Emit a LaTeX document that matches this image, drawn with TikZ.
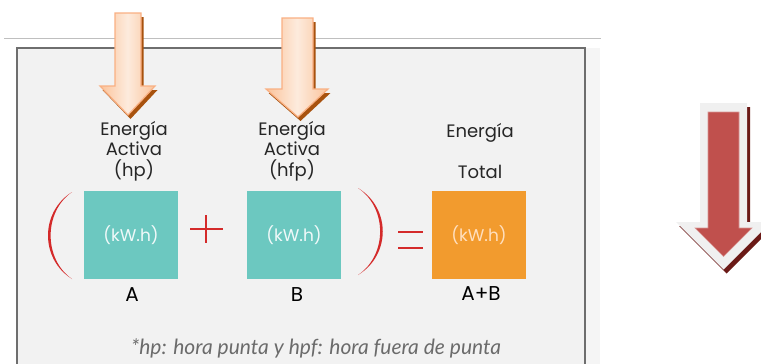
\documentclass[tikz,border=0pt]{standalone}
\usepackage{fontspec}
\setmainfont{Poppins}
\newfontfamily\notefont{Lato}
\definecolor{panelgray}{HTML}{F2F2F2}
\definecolor{bordergray}{HTML}{6E6E6E}
\definecolor{tealbox}{HTML}{6CC8C0}
\definecolor{orangebox}{HTML}{F29B2E}
\definecolor{signred}{HTML}{D42A2A}
\definecolor{peach}{HTML}{FBC39A}
\definecolor{peachlight}{HTML}{FDEBDD}
\definecolor{peachedge}{HTML}{F9B083}
\definecolor{brownshadow}{HTML}{A8520E}
\definecolor{arrowred}{HTML}{C0504D}
\definecolor{darkred}{HTML}{6B1A17}
\begin{document}
\begin{tikzpicture}[x=1pt,y=-1pt,
  label/.style={align=center,text=black!85,font=\fontsize{18}{20.5}\selectfont},
  energybox/.style={minimum width=94pt,minimum height=88pt,inner sep=0pt,font=\fontsize{17}{19}\selectfont},
  letter/.style={text=black,font=\fontsize{20}{22}\selectfont}]
\useasboundingbox (0,0) rectangle (761,364);
\fill[white] (0,0) rectangle (761,364);
\draw[black!25] (4,38) -- (601,38);
\fill[black!4] (585,48) rectangle (600,370);
\draw[bordergray,fill=panelgray,line width=1.5pt] (17,48) rectangle (585,375);

\fill[brownshadow,shift={(2.5,4)}] (115,13) -- (141,13) -- (141,86) -- (155,86) -- (128,115) -- (100,86) -- (115,86) -- cycle;
\draw[peachedge,line width=1.2pt,left color=peach,right color=peach,middle color=peachlight] (115,13) -- (141,13) -- (141,86) -- (155,86) -- (128,115) -- (100,86) -- (115,86) -- cycle;
\fill[brownshadow,shift={(2.5,4)}] (282,18) -- (313,18) -- (313,89) -- (328,89) -- (298,117) -- (266,89) -- (282,89) -- cycle;
\draw[peachedge,line width=1.2pt,left color=peach,right color=peach,middle color=peachlight] (282,18) -- (313,18) -- (313,89) -- (328,89) -- (298,117) -- (266,89) -- (282,89) -- cycle;

\node[label](ha) at (134,151){Energía\\Activa\\(hp)};
\node[label](hb) at (292,151){Energía\\Activa\\(hfp)};
\node[label](hc) at (480,151){Energía\\[20.5pt]Total};

\node[energybox,fill=tealbox,text=white!90!tealbox](a) at (131,235){(kW.h)};
\node[energybox,fill=tealbox,text=white!90!tealbox](b) at (294,235){(kW.h)};
\node[energybox,fill=orangebox,text=orange!25!white](c) at (479,235){(kW.h)};
\node[letter](la) at (132,295){A};
\node[letter](lb) at (297,295){B};
\node[letter](lc) at (481,294){A+B};

\fill[signred] (72,192) .. controls (40,212) and (40,259) .. (72,279) .. controls (43.5,259) and (43.5,212) .. (72,192);
\fill[signred] (358,188) .. controls (391,208) and (391,255) .. (358,275) .. controls (387.5,255) and (387.5,208) .. (358,188);
\draw[signred,line width=1.4pt] (190,229) -- (223,229) (206,215) -- (206,243);
\draw[signred,line width=2.5pt] (398,232) -- (423,232) (398,248) -- (423,248);

\node[text=black!58,font=\notefont\itshape\fontsize{21}{24}\selectfont](note) at (316,348){*hp: hora punta y hpf: hora fuera de punta};

\fill[darkred,shift={(3,4)}] (700,103) -- (747,103) -- (747,222) -- (771,222) -- (723.5,269.5) -- (676,222) -- (700,222) -- cycle;
\fill[black!6] (700,103) -- (747,103) -- (747,222) -- (771,222) -- (723.5,269.5) -- (676,222) -- (700,222) -- cycle;
\draw[arrowred!60!white,fill=arrowred,line width=0.6pt] (708,112) -- (739,112) -- (739,228) -- (752,228) -- (723.5,256.5) -- (695,228) -- (708,228) -- cycle;
\end{tikzpicture}
\end{document}
